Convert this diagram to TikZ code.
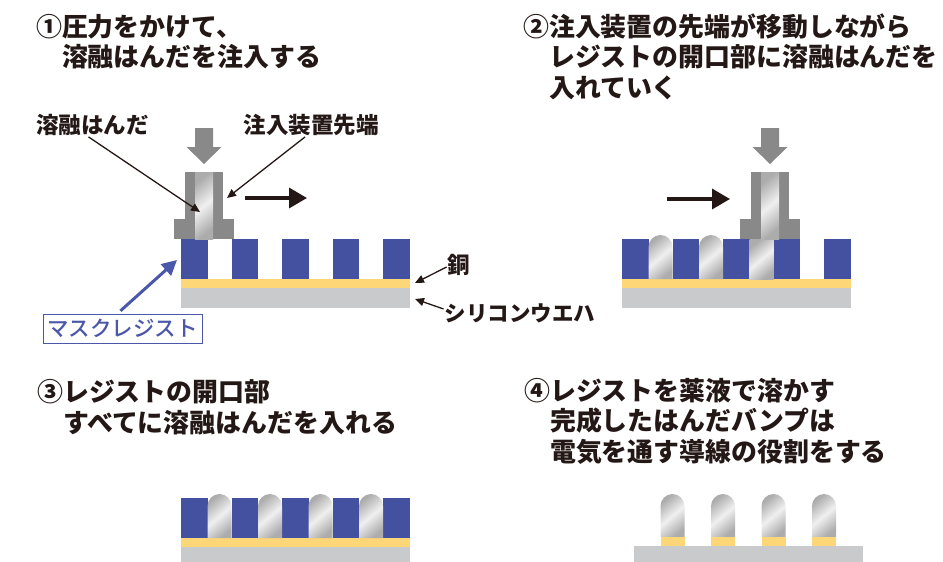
\documentclass[tikz,border=0pt]{standalone}
\usepackage{fontspec}
\newfontfamily\jp{Noto Sans CJK JP Medium}
\newfontfamily\jpb{Noto Sans CJK JP Black}
\usetikzlibrary{arrows.meta}
\definecolor{ink}{HTML}{231815}
\definecolor{resist}{HTML}{4451A0}
\definecolor{copper}{HTML}{FCD677}
\definecolor{wafer}{HTML}{C9CACC}
\definecolor{tool}{HTML}{898989}
\definecolor{maskblue}{HTML}{4B57A8}

\begin{document}
\begin{tikzpicture}[x=1pt, y=-1pt,
  heading/.style={anchor=base west, align=left, inner sep=0, text=ink, font=\jpb\fontsize{25.9}{30.5}\selectfont},
  tag/.style={inner sep=1pt, text=ink, font=\jpb\fontsize{22.5}{24}\selectfont},
  callout/.style={draw=ink, line width=1.3pt, -{Triangle[length=9pt,width=8pt]}},
  travel/.style={draw=ink, line width=3.5pt, -{Triangle[length=18pt,width=20pt]}},
  bump/.style={top color=gray!65, bottom color=gray!65, middle color=gray!12, shading angle=40}]

\useasboundingbox (0,0) rectangle (943,562);

% headings (placed at the baseline of their last line)
\node[heading] (head1) at (36,66.5) {①圧力をかけて、\\\phantom{①}溶融はんだを注入する};
\node[heading] (head2) at (523,97) {②注入装置の先端が移動しながら\\\phantom{②}レジストの開口部に溶融はんだを\\\phantom{②}入れていく};
\node[heading] (head3) at (37,432) {③レジストの開口部\\\phantom{③}すべてに溶融はんだを入れる};
\node[heading] (head4) at (524,461) {④レジストを薬液で溶かす\\\phantom{④}完成したはんだバンプは\\\phantom{④}電気を通す導線の役割をする};

% wafer, copper and resist
\foreach \x/\y in {181/288, 622/288} {
  \fill[wafer] (\x,\y) rectangle ++(228.5,20);
  \fill[copper] (\x,\y-9) rectangle ++(228.5,9);
  \foreach \d in {0,50.5,101,151.5,202}
    \fill[resist] (\x+\d,\y-49) rectangle ++(26.5,40);
}
\fill[wafer] (181,547) rectangle (409.5,562);
\fill[copper] (181,538) rectangle (409.5,547);
\foreach \d in {0,50.5,101,151.5,202}
  \fill[resist] (181+\d,498) rectangle ++(26.5,40);
\fill[wafer] (634,546) rectangle (862.5,562);

% solder bumps
\foreach \g/\t/\b in {648.5/235/279, 699/235/279, 207.5/494/538, 258/494/538, 308.5/494/538, 359/494/538,
                      660.5/494/537, 711/494/537, 761.5/494/537, 812/494/537}
  \shade[bump] (\g,\b) -- (\g,\t+12) arc[start angle=180, end angle=360, radius=12] -- (\g+24,\b) -- cycle;
\foreach \g in {660.5, 711, 761.5, 812}
  \fill[copper] (\g,537) rectangle ++(24,9);
\shade[bump] (749.5,239) rectangle (773.5,279);

% nozzle with pressure arrow
\foreach \c in {204, 770} {
  \fill[tool] (\c-19,172) rectangle (\c+19,220);
  \fill[tool] (\c-30,219) rectangle (\c+29.5,239);
  \shade[bump] (\c-9,172) rectangle (\c+9,239);
  \fill[tool] (\c-9,128) -- (\c+9,128) -- (\c+9,147) -- (\c+17.5,147) -- (\c,164)
    -- (\c-17.5,147) -- (\c-9,147) -- cycle;
}

% direction of travel
\coordinate (go1) at (245,198);
\coordinate (stop1) at (307,198);
\coordinate (go2) at (667,199);
\coordinate (stop2) at (730,199);
\draw[travel] (go1) -- (stop1);
\draw[travel] (go2) -- (stop2);

% callouts
\node[tag] (lblsolder) at (92.5,125) {溶融はんだ};
\node[tag] (lbltip) at (311,125) {注入装置先端};
\node[tag] (lblcu) at (459,265) {銅};
\node[tag, font=\jpb\fontsize{21.5}{23}\selectfont] (lblsi) at (520,313) {シリコンウエハ};
\node[draw=maskblue, line width=1pt, text=maskblue, font=\jp\fontsize{21.5}{23}\selectfont,
  minimum width=159pt, minimum height=29pt, inner sep=0] (lblmask) at (122.5,328.5) {マスクレジスト};

\coordinate (solderpt) at (200,212);
\coordinate (tippt) at (227,198);
\coordinate (cupt) at (415,283);
\coordinate (sipt) at (415,299);
\coordinate (maskpt) at (177,260);

\draw[callout] ([xshift=-4pt]lblsolder.south) -- (solderpt);
\draw[callout] ([xshift=-6pt]lbltip.south) -- (tippt);
\draw[callout] ([yshift=-2pt]lblcu.west) -- (cupt);
\draw[callout] ([yshift=4pt]lblsi.west) -- (sipt);
\draw[draw=maskblue, line width=3pt, -{Triangle[length=15pt,width=15pt]}, shorten <=4pt]
  ([xshift=-5pt]lblmask.north) -- (maskpt);
\end{tikzpicture}
\end{document}
